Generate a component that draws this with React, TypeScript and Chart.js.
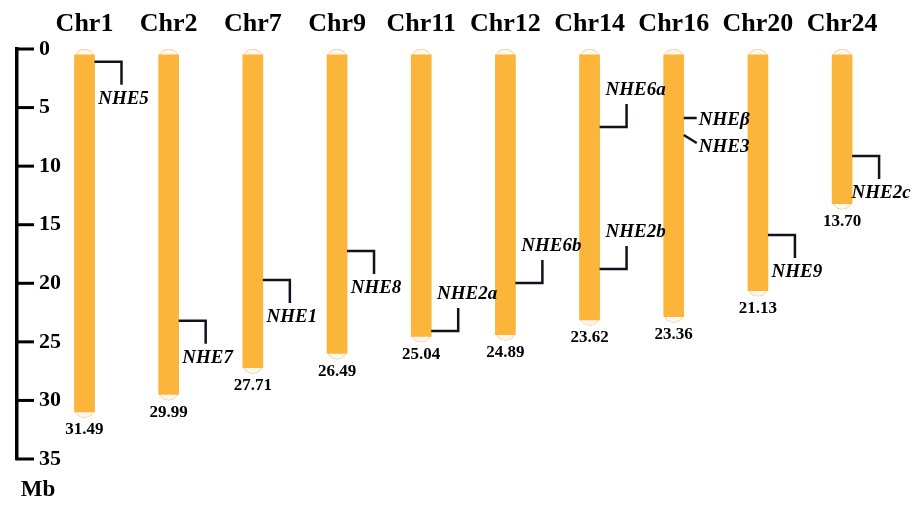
import { useEffect, useRef } from 'react';
import { Chart, registerables } from 'chart.js';

Chart.register(...registerables);

// ---------- data ----------
const chromosomes = ['Chr1', 'Chr2', 'Chr7', 'Chr9', 'Chr11', 'Chr12', 'Chr14', 'Chr16', 'Chr20', 'Chr24'];
const chromosomeLengths = [31.49, 29.99, 27.71, 26.49, 25.04, 24.89, 23.62, 23.36, 21.13, 13.7];

const geneNames = ['NHE5', 'NHE7', 'NHE1', 'NHE8', 'NHE2a', 'NHE6b', 'NHE6a', 'NHE2b', 'NHEβ', 'NHE3', 'NHE9', 'NHE2c'];
const geneChromosomes = ['Chr1', 'Chr2', 'Chr7', 'Chr9', 'Chr11', 'Chr12', 'Chr14', 'Chr14', 'Chr16', 'Chr16', 'Chr20', 'Chr24'];
const genePositions = [1.08, 23.19, 19.72, 17.24, 24.07, 19.98, 6.66, 18.78, 5.89, 7.34, 15.88, 9.13];

const yMin = 0;
const yMax = 35;
const yStep = 5;
const yUnit = 'Mb';

// ---------- styling / layout (not data) ----------
const SERIF = '"Liberation Serif", "Times New Roman", serif';
const BAR_W = 20;
const CAP = 0.5; // Mb shown as pale telomere cap at each end
const ORANGE = '#FCB53B';
const LEADER: Record<string, 'down' | 'up' | 'side' | 'slant'> = {
  NHE5: 'down', NHE7: 'down', NHE1: 'down', NHE8: 'down',
  NHE2a: 'up', NHE6b: 'up', NHE6a: 'up', NHE2b: 'up',
  'NHEβ': 'side', NHE3: 'slant', NHE9: 'down', NHE2c: 'down',
};

const annotate = {
  id: 'annotate',
  afterDraw(chart: any) {
    const ctx = chart.ctx as CanvasRenderingContext2D;
    const xs = chart.scales.x;
    const ys = chart.scales.y;
    ctx.save();
    // inward tick marks of the Mb axis
    const ax = ys.right;
    ctx.strokeStyle = '#000';
    ctx.lineWidth = 3;
    ys.ticks.forEach((t: any) => {
      const py = ys.getPixelForValue(t.value);
      ctx.beginPath();
      ctx.moveTo(ax - 1.5, py);
      ctx.lineTo(ax + 17, py);
      ctx.stroke();
    });
    // unit
    ctx.fillStyle = '#000';
    ctx.textAlign = 'center';
    ctx.textBaseline = 'middle';
    ctx.font = `bold 23px ${SERIF}`;
    ctx.fillText(yUnit, ax + 21, ys.bottom + 31);
    // chromosome lengths
    ctx.font = `bold 17px ${SERIF}`;
    chromosomeLengths.forEach((len, i) => {
      ctx.fillText(len.toFixed(2), xs.getPixelForValue(i), ys.getPixelForValue(len) + 12);
    });
    // genes
    ctx.strokeStyle = '#12121f';
    ctx.lineWidth = 2.5;
    ctx.lineJoin = 'miter';
    ctx.lineCap = 'butt';
    ctx.font = `italic bold 19px ${SERIF}`;
    geneNames.forEach((name, k) => {
      const ci = chromosomes.indexOf(geneChromosomes[k]);
      const x0 = xs.getPixelForValue(ci) + BAR_W / 2;
      const y0 = ys.getPixelForValue(genePositions[k]);
      const kind = LEADER[name];
      ctx.beginPath();
      if (kind === 'down' || kind === 'up') {
        const dir = kind === 'down' ? 1 : -1;
        const vx = x0 + 27;
        const ve = y0 + dir * 23;
        ctx.moveTo(x0, y0);
        ctx.lineTo(vx, y0);
        ctx.lineTo(vx, ve);
        ctx.stroke();
        ctx.textAlign = 'center';
        ctx.fillText(name, vx + (dir > 0 ? 2 : 9), ve + dir * 14);
      } else if (kind === 'side') {
        ctx.moveTo(x0, y0);
        ctx.lineTo(x0 + 13, y0);
        ctx.stroke();
        ctx.textAlign = 'left';
        ctx.fillText(name, x0 + 15, y0 + 2);
      } else {
        ctx.moveTo(x0, y0);
        ctx.lineTo(x0 + 13, y0 + 8);
        ctx.stroke();
        ctx.textAlign = 'left';
        ctx.fillText(name, x0 + 15, y0 + 12);
      }
    });
    ctx.restore();
  },
};

export default function App() {
  const ref = useRef<HTMLCanvasElement | null>(null);

  useEffect(() => {
    document.body.style.margin = '0';
    const canvas = ref.current;
    if (!canvas) return;
    const chart = new Chart(canvas, {
      type: 'bar',
      data: {
        datasets: [
          {
            label: 'caps',
            data: chromosomeLengths.map((len, i) => ({ x: i, y: [0, len] })) as any,
            backgroundColor: '#fff7ee',
            borderColor: '#f5d3a8',
            borderWidth: 1,
            borderRadius: 10,
            borderSkipped: false,
            barThickness: BAR_W,
            grouped: false,
            order: 2,
          },
          {
            label: 'chromosomes',
            data: chromosomeLengths.map((len, i) => ({ x: i, y: [CAP, len - CAP] })) as any,
            backgroundColor: ORANGE,
            borderWidth: 0,
            barThickness: BAR_W,
            grouped: false,
            order: 1,
          },
        ],
      },
      options: {
        responsive: false,
        animation: false,
        events: [],
        layout: { padding: { left: 17, right: 0, top: 0, bottom: 47 } },
        plugins: { legend: { display: false }, tooltip: { enabled: false } },
        scales: {
          x: {
            type: 'linear',
            position: 'top',
            offset: false,
            min: -0.8018,
            max: 9.961,
            grid: { display: false },
            border: { display: false },
            afterBuildTicks: (scale: any) => {
              scale.ticks = chromosomes.map((_, i) => ({ value: i }));
            },
            afterFit: (scale: any) => {
              scale.height = 49;
            },
            ticks: {
              autoSkip: false,
              maxRotation: 0,
              padding: 1,
              color: '#000',
              font: { family: SERIF, size: 26, weight: 'bold' },
              callback: (v: any) => chromosomes[Math.round(Number(v))] ?? '',
            },
          },
          y: {
            type: 'linear',
            position: 'left',
            reverse: true,
            min: yMin,
            max: yMax,
            grid: { display: false },
            border: { display: true, width: 3.5, color: '#000' },
            afterFit: (scale: any) => {
              scale.width = 0;
            },
            ticks: {
              stepSize: yStep,
              mirror: true,
              padding: 22,
              color: '#000',
              font: { family: SERIF, size: 22, weight: 'bold' },
            },
          },
        },
      },
      plugins: [annotate],
    });
    return () => chart.destroy();
  }, []);

  return (
    <div style={{ position: 'absolute', left: 0, top: 0, width: 923, height: 506, background: '#fff' }}>
      <canvas ref={ref} width={923} height={506} style={{ display: 'block' }} />
    </div>
  );
}
